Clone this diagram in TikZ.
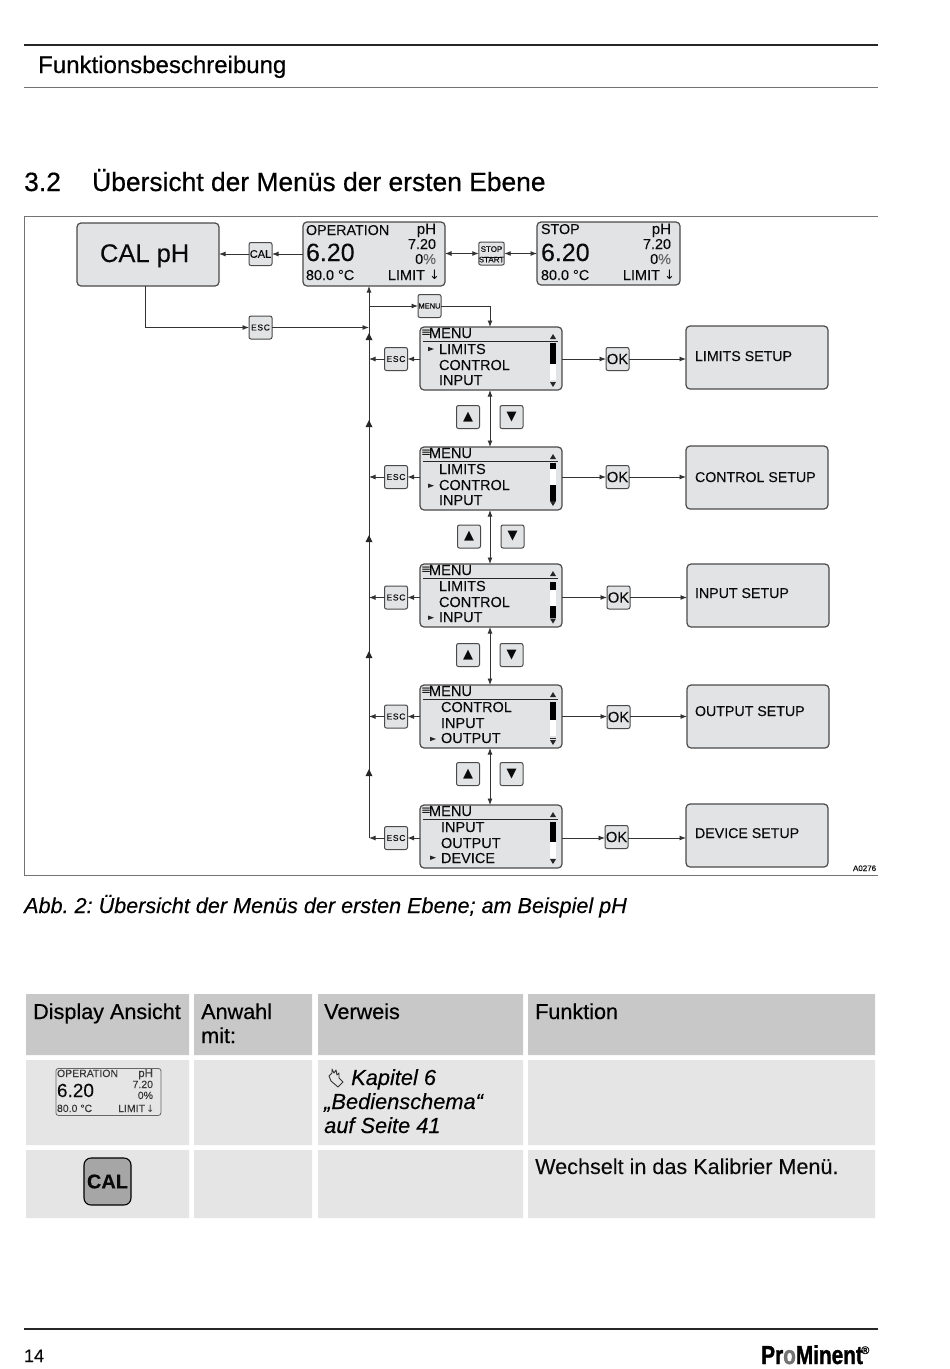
\documentclass[tikz,border=0pt]{standalone}
\usepackage{fontspec}
\setmainfont[FakeBold=0.08]{Liberation Sans}
\newfontfamily\fbold[FakeBold=0.5]{Liberation Sans}
\newfontfamily\fital[FakeBold=0.3,ItalicFeatures={FakeBold=0.3}]{Liberation Sans}
\newfontfamily\dejav{DejaVu Sans}
\newfontfamily\logof[FakeStretch=0.8,FakeBold=1.2]{Liberation Sans Bold}
\usetikzlibrary{arrows.meta}
\definecolor{panel}{HTML}{E2E3E4}
\definecolor{edge}{HTML}{4A4A4A}
\definecolor{thead}{HTML}{C8C8C8}
\definecolor{tbody}{HTML}{E5E5E5}
\definecolor{ink}{HTML}{0A0A0A}
\newcounter{tc}
\newcommand\TX[5][base west]{\stepcounter{tc}\node[anchor=#1,inner sep=0pt,outer sep=0pt,text=ink,font=\fontsize{#4}{#4}\selectfont] (t\arabic{tc}) at (#2,#3) {#5};}
\tikzset{
 rule/.style={draw=black!85,line width=1.5pt},
 thin rule/.style={draw=black!55,line width=1pt},
 panelbox/.style={draw=edge,fill=panel,line width=1.2pt,rounded corners=4pt,inner sep=0pt,outer sep=0pt},
 keybox/.style={draw=edge,fill=panel,line width=1pt,rounded corners=2pt,inner sep=0pt,outer sep=0pt,minimum width=23pt,minimum height=23pt,text=ink},
 conn/.style={draw=black!80,line width=.9pt},
 toarrow/.style={conn,-{Latex[length=6.5pt,width=5pt]}},
 twoarrow/.style={conn,{Latex[length=6.5pt,width=5pt]}-{Latex[length=6.5pt,width=5pt]}},
 tip/.style={fill=black!85,draw=none},
}
\newcommand\MENUD[9]{%
 \node[panelbox,minimum width=142pt,minimum height=63pt,anchor=north west] (#1) at (#2,#3) {};
 \begin{scope}[shift={(#2,#3)}]
 \TX{1}{9.5}{12}{\dejav ≡}
 \TX{9}{11}{14.6}{MENU}
 \draw[black!85,line width=.9pt] (3,14.7) -- (138,14.7);
 \TX{#4}{27}{14.5}{#5}
 \TX{#4}{43}{14.5}{#6}
 \TX{#4}{58}{14.5}{#7}
 \fill[tip] (#4-11,#8-2.2) -- (#4-5,#8) -- (#4-11,#8+2.2) -- cycle;
 \fill[tip] (130,12) -- (136,12) -- (133,7) -- cycle;
 #9
 \end{scope}}
\newcommand\SCROLL[5]{%
 \fill[white] (130,#1) rectangle (136,#4);
 \fill[black] (130,#1) rectangle (136,#2);
 \ifdim#3pt<#4pt \fill[black] (130,#3) rectangle (136,#4);\fi
 \fill[tip] (130,#5) -- (136,#5) -- (133,#5+5) -- cycle;}
\begin{document}
\begin{tikzpicture}[x=1pt,y=-1pt]
\frenchspacing
\useasboundingbox (0,0) rectangle (950,1369);
\fill[white] (0,0) rectangle (950,1369);
% page head
\draw[rule] (24,45) -- (878,45);
\draw[thin rule] (24,87) -- (878,87);
\node[anchor=base west,inner sep=0pt,font=\fontsize{24}{24}\fbold] (head) at (38,73) {Funktionsbeschreibung};
\node[anchor=base west,inner sep=0pt,font=\fontsize{26.4}{26}\fbold] (secno) at (24,191) {3.2};
\node[anchor=base west,inner sep=0pt,font=\fontsize{26.4}{26}\fbold] (sec) at (92,191) {Übersicht der Menüs der ersten Ebene};
% frame
\draw[thin rule] (878,216) -- (24,216) -- (24,875) -- (878,875);
% boxes
\node[panelbox,minimum width=142pt,minimum height=63pt,anchor=north west] (calph) at (77,223) {};
\TX{100}{262}{25.5}{CAL pH}
\node[panelbox,minimum width=142pt,minimum height=64pt,anchor=north west] (oper) at (303,222) {};
\node[panelbox,minimum width=143pt,minimum height=63pt,anchor=north west] (stop) at (537,222) {};
\TX{306}{235}{14.3}{OPERATION}
\TX[base east]{436}{234}{15}{pH}
\TX[base east]{436}{249}{14.4}{7.20}
\TX{306}{261}{25}{6.20}
\TX[base east]{436}{264}{14.4}{0{\color{black!60}\%}}
\TX{306}{280}{14.4}{80.0 °C}
\TX[base east]{425}{280}{14.5}{LIMIT}
\TX{429}{279}{13}{\dejav ↓}
\TX{541}{234}{14.3}{STOP}
\TX[base east]{671}{234}{15}{pH}
\TX[base east]{671}{249}{14.4}{7.20}
\TX{541}{261}{25}{6.20}
\TX[base east]{671}{264}{14.4}{0{\color{black!60}\%}}
\TX{541}{280}{14.4}{80.0 °C}
\TX[base east]{660}{280}{14.5}{LIMIT}
\TX{664}{279}{13}{\dejav ↓}
% keys top
\node[keybox,font=\fontsize{11}{11}\selectfont] (kcal) at (260.5,254) {CAL};
\node[keybox,font=\fontsize{8}{8}\selectfont] (kstop) at (491.5,253.5) {\begin{tabular}{@{}c@{}}\\[-4pt]STOP\\[-2.5pt]\rule{20pt}{.6pt}\\[-3pt]START\end{tabular}};
\node[keybox,font=\fontsize{7.5}{8}\selectfont] (kmenu) at (429.5,306) {MENU};
\node[keybox,font=\fontsize{8.5}{9}\selectfont] (kesc) at (260.5,327.5) {\addfontfeature{LetterSpace=8}ESC};
% menus
\MENUD{m1}{420}{327}{19}{LIMITS}{CONTROL}{INPUT}{22}{\SCROLL{16}{37}{53}{53}{55}}
\MENUD{m2}{420}{447}{19}{LIMITS}{CONTROL}{INPUT}{38.7}{\SCROLL{16}{22}{38}{54}{54}}
\MENUD{m3}{420}{564}{19}{LIMITS}{CONTROL}{INPUT}{53.7}{\SCROLL{18}{26}{42}{54}{54.5}}
\MENUD{m4}{420}{685}{21}{CONTROL}{INPUT}{OUTPUT}{54}{\SCROLL{17}{35}{51}{51}{55}\fill[tip] (130,52.5) rectangle (136,53.5);}
\MENUD{m5}{420}{805}{21}{INPUT}{OUTPUT}{DEVICE}{52.7}{\SCROLL{17}{37}{53}{53}{54}}
% setup boxes
\tikzset{setup/.style={panelbox,minimum width=142pt,minimum height=63pt,anchor=north west}}
\node[setup] (s1) at (686,326) {};
\node[setup] (s2) at (686,446) {};
\node[setup] (s3) at (687,564) {};
\node[setup] (s4) at (687,685) {};
\node[setup] (s5) at (686,804) {};
\TX{695}{361}{14.2}{LIMITS SETUP}
\TX{695}{482}{14.2}{CONTROL SETUP}
\TX{695}{598}{14.2}{INPUT SETUP}
\TX{695}{716}{14.2}{OUTPUT SETUP}
\TX{695}{838}{14.2}{DEVICE SETUP}
% esc / ok keys
\tikzset{esckey/.style={keybox,font=\fontsize{8.5}{9}\selectfont},okkey/.style={keybox,font=\fontsize{14.8}{16}\selectfont},updn/.style={keybox,font=\fontsize{13}{14}\dejav}}
\node[esckey] (e1) at (396,359) {\addfontfeature{LetterSpace=8}ESC};
\node[esckey] (e2) at (396,477) {\addfontfeature{LetterSpace=8}ESC};
\node[esckey] (e3) at (396,597.5) {\addfontfeature{LetterSpace=8}ESC};
\node[esckey] (e4) at (396,716.5) {\addfontfeature{LetterSpace=8}ESC};
\node[esckey] (e5) at (396,838) {\addfontfeature{LetterSpace=8}ESC};
\node[okkey] (o1) at (617.5,359) {OK};
\node[okkey] (o2) at (617.5,477) {OK};
\node[okkey] (o3) at (618.5,597.5) {OK};
\node[okkey] (o4) at (618.5,717) {OK};
\node[okkey] (o5) at (616.5,837) {OK};
\node[updn] (u1) at (468,417) {▲};
\node[updn] (d1) at (511.5,417) {▼};
\node[updn] (u2) at (469,536.5) {▲};
\node[updn] (d2) at (512.5,536.5) {▼};
\node[updn] (u3) at (468,655) {▲};
\node[updn] (d3) at (511.5,655) {▼};
\node[updn] (u4) at (468,774) {▲};
\node[updn] (d4) at (511.5,774) {▼};
% connectors
\coordinate (tr) at (369,286);
\coordinate (trb) at (369,838);
\draw[toarrow] (trb) -- (tr);
\foreach \yy in {337,424,539,655,773}{\fill[tip] (365.5,\yy+3) -- (372.5,\yy+3) -- (369,\yy-4) -- cycle;}
\draw[toarrow] (oper.west |- kcal) -- (kcal.east);
\draw[toarrow] (kcal.west) -- (calph.east |- kcal);
\draw[twoarrow] (oper.east |- kstop) -- (kstop.west);
\draw[twoarrow] (kstop.east) -- (stop.west |- kstop);
\draw[toarrow] (tr |- kmenu) -- (kmenu.west);
\draw[toarrow] (kmenu.east) -| (490,327);
\draw[toarrow] (calph.south -| 145,0) |- (kesc.west);
\draw[toarrow] (kesc.east) -- (tr |- kesc);
\foreach \i/\sy in {1/s1,2/s2,3/s3,4/s4,5/s5}{
 \draw[toarrow] (m\i.east |- e\i) -- (o\i.west |- e\i);
 \draw[toarrow] (o\i.east |- e\i) -- (\sy.west |- e\i);
 \draw[toarrow] (m\i.west |- e\i) -- (e\i.east);
 \draw[toarrow] (e\i.west) -- (tr |- e\i);
}
\draw[twoarrow] (m1.south -| 490,0) -- (m2.north -| 490,0);
\draw[twoarrow] (m2.south -| 490,0) -- (m3.north -| 490,0);
\draw[twoarrow] (m3.south -| 490,0) -- (m4.north -| 490,0);
\draw[twoarrow] (m4.south -| 490,0) -- (m5.north -| 490,0);
\TX{853}{871}{8}{A0276}
% caption
\node[anchor=base west,inner sep=0pt,font=\fontsize{21.6}{22}\fital\itshape] (cap) at (24,913) {Abb. 2: Übersicht der Menüs der ersten Ebene; am Beispiel pH};
% table
\fill[thead] (26,994) rectangle (189,1055) (194,994) rectangle (312,1055) (318,994) rectangle (523,1055) (528,994) rectangle (875,1055);
\fill[tbody] (26,1060) rectangle (189,1145) (194,1060) rectangle (312,1145) (318,1060) rectangle (523,1145) (528,1060) rectangle (875,1145);
\fill[tbody] (26,1150) rectangle (189,1218) (194,1150) rectangle (312,1218) (318,1150) rectangle (523,1218) (528,1150) rectangle (875,1218);
\tikzset{thtext/.style={anchor=base west,inner sep=0pt,font=\fontsize{21.6}{24}\fbold}}
\node[thtext] (h1) at (33,1019) {Display Ansicht};
\node[thtext] (h2a) at (201,1019) {Anwahl};
\node[thtext] (h2b) at (201,1043) {mit:};
\node[thtext] (h3) at (324,1019) {Verweis};
\node[thtext] (h4) at (535,1019) {Funktion};
% small display
\node[draw=black!60,fill=tbody,line width=.8pt,rounded corners=2.5pt,minimum width=105pt,minimum height=47pt,anchor=north west,inner sep=0pt] (mini) at (55.5,1068) {};
\begin{scope}
\tikzset{every node/.append style={text opacity=.75}}
\TX{57}{1077}{10.5}{OPERATION}
\TX[base east]{153}{1077}{11.5}{pH}
\TX[base east]{153}{1088}{10.5}{7.20}
\TX[base east]{153}{1099}{10.5}{0\%}
\TX{57}{1112}{10.5}{80.0 °C}
\TX[base east]{145}{1112}{10.5}{LIMIT}
\TX{146}{1112}{10}{\dejav ↓}
\end{scope}
\TX{57}{1097}{19}{6.20}
% hand icon
\draw[black!80,line width=.9pt,line join=round] (332,1069) -- (332,1073) -- (329,1076) -- (331,1081) -- (338,1087) -- (343,1082) -- (339,1078) -- (339,1073) -- (337,1075) -- (336,1070) -- (334,1073) -- cycle;
\tikzset{itext/.style={anchor=base west,inner sep=0pt,font=\fontsize{21.8}{24}\fital\itshape}}
\node[itext] (v1) at (351,1085) {Kapitel 6};
\node[itext] (v2) at (324,1109) {„Bedienschema“};
\node[itext] (v3) at (324,1133) {auf Seite 41};
\node[draw=black,fill=black!35,line width=1.1pt,rounded corners=7pt,minimum width=47pt,minimum height=47pt,inner sep=0pt,font=\fontsize{20}{21}\bfseries,text=ink] (kbig) at (107.5,1181.5) {CAL};
\node[anchor=base west,inner sep=0pt,font=\fontsize{21.6}{24}\selectfont,text=ink] (w) at (535,1174) {Wechselt in das Kalibrier Menü.};
% foot
\draw[rule] (24,1329) -- (878,1329);
\TX{24}{1362}{18}{14}
\node[anchor=base west,inner sep=0pt,font=\fontsize{26}{26}\logof] (logo) at (761,1364) {Pr{\color{black!55}o}Minent};
\node[anchor=base west,inner sep=0pt,font=\fontsize{11}{11}\bfseries] (reg) at (861,1354) {®};
\end{tikzpicture}
\end{document}
